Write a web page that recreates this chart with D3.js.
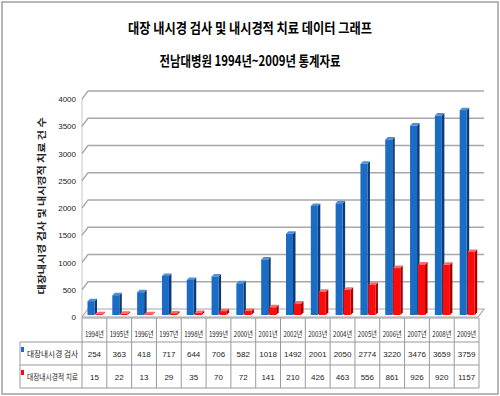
<!DOCTYPE html>
<html>
<head>
<meta charset="utf-8">
<script src="https://cdn.jsdelivr.net/npm/d3@7"></script>
<style>
  body { margin: 0; background: #fff; }
  text { font-family: "Noto Sans CJK KR", sans-serif; }
  .num { font-family: "Liberation Sans Narrow", "Liberation Sans", sans-serif; }
</style>
</head>
<body>
<script>
const years = ['1994', '1995', '1996', '1997', '1998', '1999', '2000', '2001',
  '2002', '2003', '2004', '2005', '2006', '2007', '2008', '2009']
const exams = [254, 363, 418, 717, 644, 706, 582, 1018, 1492, 2001, 2050, 2774, 3220, 3476, 3659, 3759]
const treats = [15, 22, 13, 29, 35, 70, 72, 141, 210, 426, 463, 556, 861, 926, 920, 1157]
const yTicks = [0, 500, 1000, 1500, 2000, 2500, 3000, 3500, 4000]
const seriesNames = ['대장내시경 검사', '대장내시경적 치료']

const width = 500
const height = 396
const depthX = 6
const depthY = -8

const svg = d3.select('body').append('svg')
  .attr('width', width)
  .attr('height', height)

// outer frame
svg.append('rect')
  .attr('x', 2).attr('y', 2)
  .attr('width', 496).attr('height', 392)
  .attr('fill', 'none')
  .attr('stroke', '#a0a0a0')
  .attr('stroke-width', 1.5)

svg.append('text')
  .attr('x', 250).attr('y', 33)
  .attr('text-anchor', 'middle')
  .attr('font-size', 14)
  .attr('font-weight', 'bold')
  .attr('textLength', 244)
  .attr('lengthAdjust', 'spacingAndGlyphs')
  .text('대장 내시경 검사 및 내시경적 치료 데이터 그래프')

svg.append('text')
  .attr('x', 250).attr('y', 66)
  .attr('text-anchor', 'middle')
  .attr('font-size', 14)
  .attr('font-weight', 'bold')
  .attr('textLength', 181)
  .attr('lengthAdjust', 'spacingAndGlyphs')
  .text('전남대병원 1994년~2009년 통계자료')

const x = d3.scaleBand()
  .domain(years)
  .range([82, 479])

const y = d3.scaleLinear()
  .domain([0, 4000])
  .range([317, 99])

// walls and gridlines
const grid = svg.append('g')
grid.append('line')
  .attr('x1', 82).attr('x2', 82)
  .attr('y1', y(0)).attr('y2', y(4000))
  .attr('stroke', '#c8c8c8')
grid.selectAll('path.grid')
  .data(yTicks.filter(d => d > 0))
  .enter()
  .append('path')
  .attr('class', 'grid')
  .attr('d', d => `M82,${y(d)}L${82 + depthX},${y(d) + depthY}H484`)
  .attr('fill', 'none')
  .attr('stroke', '#a8a8a8')
  .attr('stroke-width', 1.3)

// floor
grid.append('path')
  .attr('d', `M82,${y(0)}L${82 + depthX},${y(0) + depthY}H484L478,${y(0)}Z`)
  .attr('fill', '#fbfbfb')
  .attr('stroke', '#a8a8a8')
  .attr('stroke-width', 1.2)

svg.append('g')
  .selectAll('text')
  .data(yTicks)
  .enter()
  .append('text')
  .attr('class', 'num')
  .attr('x', 76)
  .attr('y', d => y(d) + 3)
  .attr('text-anchor', 'end')
  .attr('font-size', 8)
  .attr('fill', '#222')
  .text(d => d)

svg.append('text')
  .attr('transform', 'translate(45,206) rotate(-90)')
  .attr('text-anchor', 'middle')
  .attr('font-size', 9)
  .attr('font-weight', 'bold')
  .attr('textLength', 177)
  .attr('lengthAdjust', 'spacingAndGlyphs')
  .attr('fill', '#222')
  .text('대장내시경 검사 및 내시경적 치료 건 수')

// 3d bars
const barW = 7
const bx = 2.5
const by = -2.5
const lift = 2

function drawBars (values, offset, colors) {
  const g = svg.append('g')
  const bars = g.selectAll('g')
    .data(values.map((v, i) => ({ year: years[i], v: v })))
    .enter()
    .append('g')
  const x0 = d => x(d.year) + offset + 1
  const yt = d => y(d.v) - lift
  const yb = y(0) - lift
  bars.append('path')
    .attr('d', d => `M${x0(d) + barW},${yb}l${bx},${by}V${yt(d) + by}l${-bx},${-by}Z`)
    .attr('fill', colors[1])
  bars.append('path')
    .attr('d', d => `M${x0(d)},${yt(d)}l${bx},${by}h${barW}l${-bx},${-by}Z`)
    .attr('fill', colors[2])
  bars.append('rect')
    .attr('x', x0)
    .attr('y', yt)
    .attr('width', barW)
    .attr('height', d => yb - yt(d))
    .attr('fill', colors[0])
}

drawBars(exams, 4.5, ['#1b6cc4', '#0c3c78', '#4f8fd8'])
drawBars(treats, 12.5, ['#ff0a0a', '#a80000', '#ff6a6a'])

// data table
const table = svg.append('g')
const rows = [318, 342, 365, 388]
const lineColor = '#9a9a9a'
table.append('line')
  .attr('x1', 82).attr('x2', 479)
  .attr('y1', rows[0]).attr('y2', rows[0])
  .attr('stroke', lineColor)
table.selectAll('line.h')
  .data(rows.slice(1))
  .enter()
  .append('line')
  .attr('class', 'h')
  .attr('x1', 20).attr('x2', 479)
  .attr('y1', d => d).attr('y2', d => d)
  .attr('stroke', lineColor)
table.append('line')
  .attr('x1', 20).attr('x2', 20)
  .attr('y1', rows[1]).attr('y2', rows[3])
  .attr('stroke', lineColor)
table.selectAll('line.v')
  .data(years.map(d => x(d)).concat([479]))
  .enter()
  .append('line')
  .attr('class', 'v')
  .attr('x1', d => d).attr('x2', d => d)
  .attr('y1', rows[0]).attr('y2', rows[3])
  .attr('stroke', lineColor)

const cx = d => x(d) + x.bandwidth() / 2
table.selectAll('text.yr')
  .data(years)
  .enter()
  .append('text')
  .attr('class', 'yr')
  .attr('x', cx)
  .attr('y', 337)
  .attr('text-anchor', 'middle')
  .attr('font-size', 8)
  .attr('textLength', 19)
  .attr('lengthAdjust', 'spacingAndGlyphs')
  .attr('fill', '#222')
  .text(d => d + '년')

const series = [exams, treats]
const rowMid = [356.5, 379.5]
series.forEach(function (vals, r) {
  table.selectAll('text.s' + r)
    .data(vals)
    .enter()
    .append('text')
    .attr('class', 'num s' + r)
    .attr('x', (d, i) => cx(years[i]))
    .attr('y', rowMid[r])
    .attr('text-anchor', 'middle')
    .attr('font-size', 8)
    .attr('fill', '#222')
    .text(d => d)
})

const legendColors = ['#1b6cc4', '#ff0a0a']
seriesNames.forEach(function (name, r) {
  table.append('rect')
    .attr('x', 21).attr('y', rows[r + 1] + 5)
    .attr('width', 3).attr('height', 5)
    .attr('fill', legendColors[r])
  table.append('text')
    .attr('x', 27).attr('y', rowMid[r])
    .attr('font-size', 8)
    .attr('textLength', 51)
    .attr('lengthAdjust', 'spacingAndGlyphs')
    .attr('fill', '#222')
    .text(name)
})
</script>
</body>
</html>
